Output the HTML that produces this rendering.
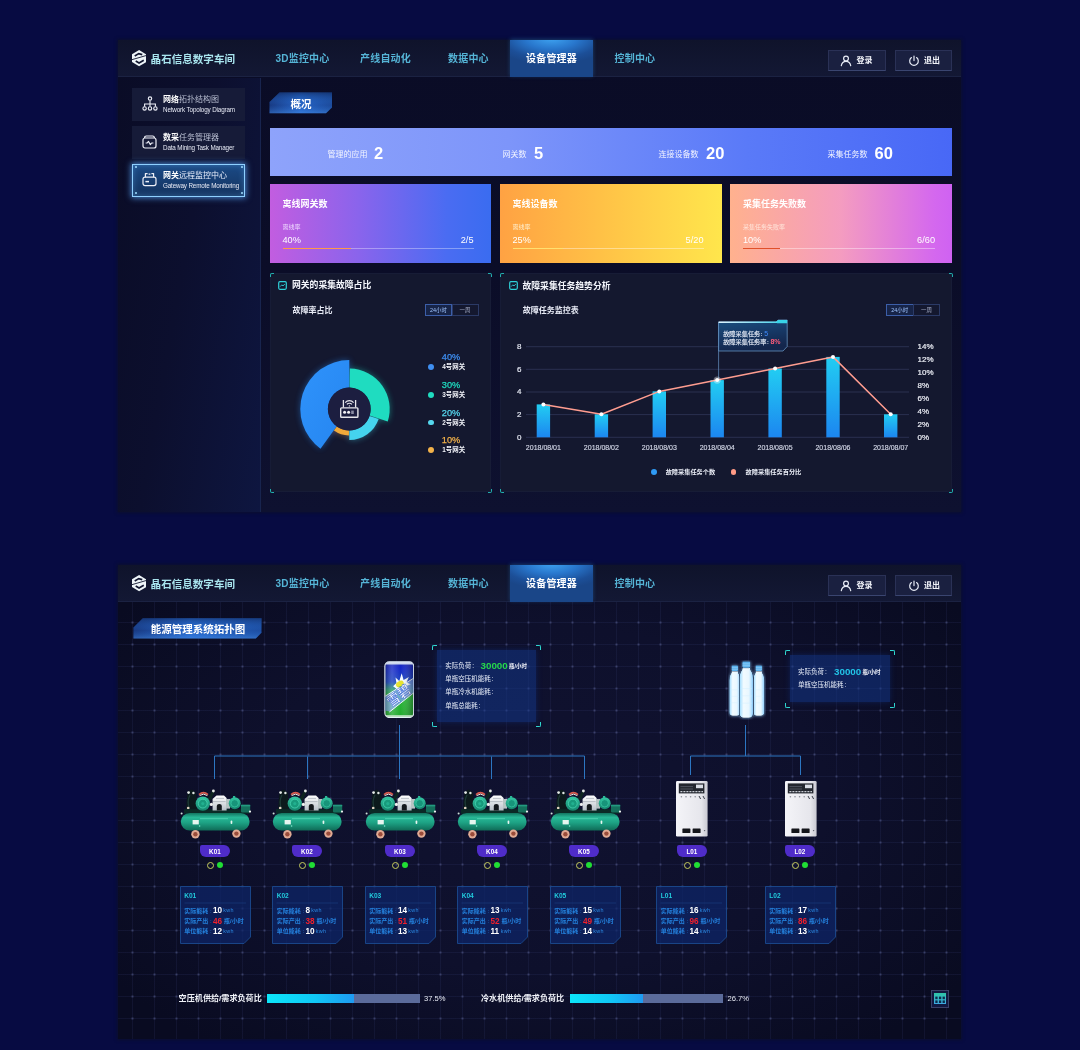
<!DOCTYPE html>
<html lang="zh-CN">
<head>
<meta charset="utf-8">
<title>晶石信息数字车间</title>
<style>
*{box-sizing:border-box;margin:0;padding:0}
html,body{width:1080px;height:1050px;overflow:hidden}
body{position:relative;background:#070b42;font-family:"Liberation Sans","Noto Sans CJK SC",sans-serif;color:#fff;-webkit-font-smoothing:antialiased}
.abs{position:absolute}
.t{position:absolute;white-space:nowrap;line-height:1;transform:translateY(-50%)}
.b{font-weight:bold}
.panel{position:absolute;left:118px;width:843px;background:linear-gradient(180deg,#0a0c26 0%,#0b0d28 50%,#0e1130 100%);box-shadow:0 0 3px 1px rgba(12,15,42,.85)}
.hdr{position:absolute;left:118px;width:843px;height:37px;background:linear-gradient(180deg,#0f132b 0%,#131834 100%);border-bottom:1px solid #1b2242}
.nav{color:#55b4d6;font-size:10px;font-weight:bold;letter-spacing:.2px}
.navact{position:absolute;left:509.5px;width:83.5px;height:37px;background:radial-gradient(ellipse 75% 70% at 50% -5%,#3ea4f2 0%,#2876cc 42%,#1c4f98 78%,#1a4688 100%);box-shadow:0 -1px 4px rgba(50,140,230,.35)}
.hbtn{position:absolute;height:21px;width:57px;background:#1a2040;border:1px solid #2a3156;border-bottom-color:#3a4570}
.side{position:absolute;left:132px;width:113px;height:33px;background:#161b38}
.side.act{background:linear-gradient(180deg,#1b4a86 0%,#14335f 100%);border:1px solid #8fd0ff;box-shadow:0 0 6px 1px rgba(90,170,255,.75), inset 0 0 6px rgba(110,190,255,.35)}
.s1{font-size:8px;color:#b9bfd2}
.s1 b{color:#fff}
.s2{font-size:6.3px;color:#e6e9f4;letter-spacing:-.15px}
.card{position:absolute;top:184px;height:79px}
.cp{position:absolute;background:#14182f;box-shadow:inset 0 0 0 1px rgba(40,50,90,.18)}
.br{position:absolute;width:4px;height:4px;border-color:rgba(37,201,195,.85);border-style:solid;border-width:0}
.br.tl{border-left-width:1.2px;border-top-width:1.2px;border-top-left-radius:2px}
.br.tr{border-right-width:1.2px;border-top-width:1.2px;border-top-right-radius:2px}
.br.bl{border-left-width:1.2px;border-bottom-width:1.2px;border-bottom-left-radius:2px}
.br.brr{border-right-width:1.2px;border-bottom-width:1.2px;border-bottom-right-radius:2px}
.br.b2{width:5px;height:5px;border-color:#2fd6cf}
.br.b2.tl{border-left-width:1.6px;border-top-width:1.6px}.br.b2.tr{border-right-width:1.6px;border-top-width:1.6px}.br.b2.bl{border-left-width:1.6px;border-bottom-width:1.6px}.br.b2.brr{border-right-width:1.6px;border-bottom-width:1.6px}
.tg{position:absolute;height:12px;border:1px solid #2b3a66;font-size:5.4px;color:#aab2cc;text-align:center;line-height:10px}
.tg.on{border-color:#3c5ea8;background:#172448;color:#9fc4ff}
.grid{position:absolute;left:118px;top:602px;width:843px;height:437px;background-color:#0c0e2a;background-image:radial-gradient(circle at 50% 50%,rgba(110,120,170,.55) 0,rgba(110,120,170,.35) .8px,transparent 1.6px),linear-gradient(90deg,rgba(64,74,136,.15) 1px,transparent 1px),linear-gradient(180deg,rgba(64,74,136,.15) 1px,transparent 1px),radial-gradient(ellipse 62% 72% at 50% 45%,#101230 0%,#0e102c 55%,#090b21 100%);background-size:22px 22px,22px 22px,22px 22px,100% 100%;background-position:3.5px 9.5px,14px 20px,14px 20px,0 0}
.il{font-size:6.5px;color:#e6ecf8}
.cl{font-size:6px;color:#2480dc;font-weight:bold}
.pill{position:absolute;top:845.1px;width:30.8px;height:12.3px;padding-top:.9px;background:#4f2cc9;border-radius:2px 6.2px 6.2px 6.2px;font-size:6.3px;font-weight:bold;text-align:center;line-height:12.2px;color:#fff}
.ring{position:absolute;top:861.9px;width:6.9px;height:6.9px;border-radius:4px;border:1.5px solid #c6cc5e}
.dot{position:absolute;top:862.1px;width:6.4px;height:6.4px;border-radius:4px;background:#20de34}
</style>
</head>
<body>
<div id="root" style="position:absolute;left:0;top:0;width:1080px;height:1050px;will-change:transform">
<!-- PANEL 1 -->
<div class="panel" style="top:40px;height:472px"></div>
<div class="hdr" style="top:40px"></div><div class="navact" style="top:40px"></div><svg class="abs" style="left:132px;top:50.3px" width="14.2" height="16.4" viewBox="0 0 14.1 16.2"><polygon points="7.05,0 14.1,4.2 14.1,12 7.05,16.2 0,12 0,4.2" fill="#eef5f9"/><g fill="none" stroke="#10152f" stroke-linejoin="miter"><path d="M-.5 9.7 L14.6 5.3" stroke-width=".9"/><path d="M2.7 5.9 L6.7 3.5 L10.2 4.5" stroke-width="1.7"/><path d="M3.7 10.9 L7 12.9 L11.7 10.1" stroke-width="1.7"/></g></svg><div class="t b" style="left:150.6px;top:58.5px;font-size:10.55px;color:#a8e4ee">晶石信息数字车间</div><div class="t nav" style="left:275.5px;top:59.0px">3D监控中心</div><div class="t nav" style="left:360.0px;top:59.0px">产线自动化</div><div class="t nav" style="left:448.0px;top:59.0px">数据中心</div><div class="t nav" style="left:526.0px;top:59.0px;color:#fff">设备管理器</div><div class="t nav" style="left:614.5px;top:59.0px">控制中心</div><div class="hbtn" style="left:828px;top:50px;width:58px"></div><div class="hbtn" style="left:895px;top:50px"></div><svg class="abs" style="left:840px;top:55px" width="12" height="12" viewBox="0 0 12 12"><g fill="none" stroke="#e8ecf6" stroke-width="1.2" stroke-linecap="round"><circle cx="6" cy="3.6" r="2.4"/><path d="M1.3 10.6 C1.8 7.6 3.8 6.3 6 6.3 C8.2 6.3 10.2 7.6 10.7 10.6"/></g></svg><div class="t b" style="left:856.5px;top:60.5px;font-size:8px;color:#f0f2f8">登录</div><svg class="abs" style="left:908px;top:55px" width="12" height="12" viewBox="0 0 12 12"><g fill="none" stroke="#e8ecf6" stroke-width="1.2" stroke-linecap="round"><path d="M3.4 2.6 A4.3 4.3 0 1 0 8.6 2.6"/><path d="M6 1 V5.6"/></g></svg><div class="t b" style="left:924px;top:60.5px;font-size:8px;color:#f0f2f8">退出</div>

<div class="abs" style="left:118px;top:78px;width:143px;height:434px;background:linear-gradient(100deg,#0a0c26 0%,#0c0f2e 45%,#0e1640 100%);border-right:1px solid #18244e"></div>
<div class="side" style="top:88px"></div>
<div class="side" style="top:126px"></div>
<div class="side act" style="top:163.5px"></div>
<svg class="abs" style="left:142px;top:96px" width="16" height="16" viewBox="0 0 16 16"><g fill="none" stroke="#eef0f8" stroke-width="1.1"><circle cx="8" cy="2.6" r="1.7"/><path d="M8 4.4 V8 M2.6 10.6 V8 H13.4 V10.6 M8 8 V10.6"/><circle cx="2.6" cy="12.4" r="1.7"/><circle cx="8" cy="12.4" r="1.7"/><circle cx="13.4" cy="12.4" r="1.7"/></g></svg>
<div class="t s1" style="left:163px;top:100.3px"><b>网络</b>拓扑结构图</div>
<div class="t s2" style="left:163px;top:109.8px">Network Topology Diagram</div>
<svg class="abs" style="left:142px;top:134.5px" width="15" height="14" viewBox="0 0 15 14"><g fill="none" stroke="#eef0f8" stroke-width="1.2" stroke-linejoin="round"><path d="M2.6 3 Q2.6 1 4.4 1 H10.6 Q12.4 1 12.4 3"/><rect x="1" y="3" width="13" height="10" rx="2"/><path d="M3.6 8 H5.2 L6.4 6.4 L8.4 9.6 L9.6 8 H11.4" stroke-width="1.1"/></g></svg>
<div class="t s1" style="left:163px;top:138.1px"><b>数采</b>任务管理器</div>
<div class="t s2" style="left:163px;top:147.8px">Data Mining Task Manager</div>
<svg class="abs" style="left:142px;top:172px" width="15" height="15" viewBox="0 0 15 15"><g fill="none" stroke="#eef0f8" stroke-width="1.2" stroke-linejoin="round"><path d="M3.4 5.2 V1.6 H5.6 M11.6 5.2 V1.6 H9.4 M6.6 2.2 H8.4"/><rect x="1" y="5.2" width="13" height="8.4" rx="2"/><path d="M3.4 9.6 H7" stroke-width="1.5"/></g></svg>
<div class="t s1" style="left:163px;top:176px;color:#e8eefc"><b>网关</b>远程监控中心</div>
<div class="t s2" style="left:163px;top:185.5px">Gateway Remote Monitoring</div>
<div class="abs" style="left:134.5px;top:166px;width:2px;height:2px;background:#9fdcff;border-radius:1px"></div>
<div class="abs" style="left:240.5px;top:166px;width:2px;height:2px;background:#9fdcff;border-radius:1px"></div>
<div class="abs" style="left:134.5px;top:192px;width:2px;height:2px;background:#9fdcff;border-radius:1px"></div>
<div class="abs" style="left:240.5px;top:192px;width:2px;height:2px;background:#9fdcff;border-radius:1px"></div>

<svg class="abs" style="left:269px;top:92px" width="64" height="22" viewBox="0 0 64 22"><defs><linearGradient id="tabg" x1="0" y1="0" x2="1" y2="0"><stop offset="0" stop-color="#183a82"/><stop offset=".5" stop-color="#2664c6"/><stop offset="1" stop-color="#1c4a9a"/></linearGradient><linearGradient id="tabgb" x1="0" y1="0" x2="0" y2="1"><stop offset="0" stop-color="#0e2658" stop-opacity=".6"/><stop offset=".6" stop-color="#2a78e0" stop-opacity="0"/><stop offset="1" stop-color="#58a8ff" stop-opacity=".35"/></linearGradient></defs><path d="M10.5 .5 H63 V15.5 L57 21.3 H.5 V10 Z" fill="url(#tabg)"/><path d="M10.5 .5 H63 V15.5 L57 21.3 H.5 V10 Z" fill="url(#tabgb)"/></svg>
<div class="t b" style="left:290.5px;top:103.5px;font-size:10.5px;color:#fff">概况</div>

<div class="abs" style="left:270px;top:128px;width:682px;height:48px;background:linear-gradient(90deg,#8ea3fb 0%,#7d95fa 35%,#5a7af8 70%,#4868f6 100%)"></div>
<div class="t" style="left:327.5px;top:154.5px;font-size:8px;color:#f2f4ff">管理的应用</div>
<div class="t b" style="left:374px;top:152.5px;font-size:16.5px">2</div>
<div class="t" style="left:502.5px;top:154.5px;font-size:8px;color:#f2f4ff">网关数</div>
<div class="t b" style="left:534px;top:152.5px;font-size:16.5px">5</div>
<div class="t" style="left:658.5px;top:154.5px;font-size:8px;color:#f2f4ff">连接设备数</div>
<div class="t b" style="left:706px;top:152.5px;font-size:16.5px">20</div>
<div class="t" style="left:827.5px;top:154.5px;font-size:8px;color:#f2f4ff">采集任务数</div>
<div class="t b" style="left:874.5px;top:152.5px;font-size:16.5px">60</div>

<div class="card" style="left:270px;width:221px;background:linear-gradient(90deg,#c25de0 0%,#8a64ec 40%,#4a6cf2 80%,#3a6cf0 100%)"></div>
<div class="t b" style="left:282.5px;top:203.5px;font-size:9px">离线网关数</div>
<div class="t" style="left:282.5px;top:226.5px;font-size:6px;color:#f0dcff">离线率</div>
<div class="t" style="left:282.5px;top:241px;font-size:9.2px">40%</div>
<div class="t" style="left:473.5px;top:241px;font-size:9.2px;transform:translate(-100%,-50%)">2/5</div>
<div class="abs" style="left:282.5px;top:247.8px;width:191px;height:1px;background:rgba(255,255,255,.35)"></div>
<div class="abs" style="left:282.5px;top:247.5px;width:68px;height:1.5px;background:#ff9a4a"></div>

<div class="card" style="left:500px;width:222px;background:linear-gradient(90deg,#ffa243 0%,#ffc146 45%,#ffe64c 100%)"></div>
<div class="t b" style="left:512.5px;top:203.5px;font-size:9px">离线设备数</div>
<div class="t" style="left:512.5px;top:226.5px;font-size:6px;color:#fff0d0">离线率</div>
<div class="t" style="left:512.5px;top:241px;font-size:9.2px">25%</div>
<div class="t" style="left:703.5px;top:241px;font-size:9.2px;transform:translate(-100%,-50%)">5/20</div>
<div class="abs" style="left:512.5px;top:247.8px;width:191px;height:1px;background:rgba(255,255,255,.4)"></div>
<div class="abs" style="left:512.5px;top:247.5px;width:50px;height:1.5px;background:#ffe070"></div>

<div class="card" style="left:730px;width:222px;background:linear-gradient(90deg,#ffb18e 0%,#f49cc0 50%,#d468ee 92%,#cf62f2 100%)"></div>
<div class="t b" style="left:743px;top:203.5px;font-size:9px">采集任务失败数</div>
<div class="t" style="left:743px;top:226.5px;font-size:6px;color:#ffe6dc">采集任务失败率</div>
<div class="t" style="left:743px;top:241px;font-size:9.2px">10%</div>
<div class="t" style="left:935px;top:241px;font-size:9.2px;transform:translate(-100%,-50%)">6/60</div>
<div class="abs" style="left:743px;top:247.8px;width:192px;height:1px;background:rgba(255,255,255,.4)"></div>
<div class="abs" style="left:743px;top:247.5px;width:37px;height:1.5px;background:#e0502a"></div>

<div class="cp" style="left:270px;top:273px;width:221px;height:219px"></div>
<div class="cp" style="left:500px;top:273px;width:452px;height:219px"></div>
<div class="br tl" style="left:269.5px;top:272.5px"></div><div class="br tr" style="left:487.5px;top:272.5px"></div>
<div class="br bl" style="left:269.5px;top:488.5px"></div><div class="br brr" style="left:487.5px;top:488.5px"></div>
<div class="br tl" style="left:499.5px;top:272.5px"></div><div class="br tr" style="left:948.5px;top:272.5px"></div>
<div class="br bl" style="left:499.5px;top:488.5px"></div><div class="br brr" style="left:948.5px;top:488.5px"></div>
<svg class="abs" style="left:278px;top:280.5px" width="9" height="9" viewBox="0 0 9 9"><rect x=".7" y=".7" width="7.6" height="7.6" rx="1.2" fill="none" stroke="#2fd0d8" stroke-width="1.2"/><path d="M2.2 5.6 L3.8 3.8 L5 5 L6.8 3" fill="none" stroke="#2fd0d8" stroke-width=".9"/></svg>
<div class="t b" style="left:292px;top:285.2px;font-size:8.8px;color:#f4f6fc">网关的采集故障占比</div>
<div class="t b" style="left:292.5px;top:310.5px;font-size:8px;color:#e6e9f4">故障率占比</div>
<div class="tg on" style="left:425px;top:303.5px;width:27px">24小时</div><div class="tg" style="left:451.5px;top:303.5px;width:27px">一周</div>
<svg class="abs" style="left:270px;top:330px" width="221" height="150" viewBox="270 330 221 150">
<defs><linearGradient id="dblue" x1="0" y1="0" x2="1" y2="1"><stop offset="0" stop-color="#2f93fb"/><stop offset="1" stop-color="#2585f0"/></linearGradient>
<filter id="dglow" x="-30%" y="-30%" width="160%" height="160%"><feGaussianBlur stdDeviation="3"/></filter></defs>
<g filter="url(#dglow)" opacity=".45"><path d="M320.50 448.64 A49 49 0 0 1 349.30 360.00 L349.30 387.60 A21.4 21.4 0 0 0 336.72 426.31 Z" fill="url(#dblue)"/><path d="M349.86 368.60 A40.4 40.4 0 0 1 387.72 421.48 L369.65 415.61 A21.4 21.4 0 0 0 349.60 387.60 Z" fill="#1fdcc0"/><path d="M378.65 418.99 A31 31 0 0 1 349.30 440.00 L349.30 430.40 A21.4 21.4 0 0 0 369.56 415.90 Z" fill="#45d4ee"/><path d="M348.93 435.50 A26.5 26.5 0 0 1 333.91 430.57 L336.87 426.42 A21.4 21.4 0 0 0 349.00 430.40 Z" fill="#f0a93a"/></g>
<path d="M320.50 448.64 A49 49 0 0 1 349.30 360.00 L349.30 387.60 A21.4 21.4 0 0 0 336.72 426.31 Z" fill="url(#dblue)"/><path d="M349.86 368.60 A40.4 40.4 0 0 1 387.72 421.48 L369.65 415.61 A21.4 21.4 0 0 0 349.60 387.60 Z" fill="#1fdcc0"/><path d="M378.65 418.99 A31 31 0 0 1 349.30 440.00 L349.30 430.40 A21.4 21.4 0 0 0 369.56 415.90 Z" fill="#45d4ee"/><path d="M348.93 435.50 A26.5 26.5 0 0 1 333.91 430.57 L336.87 426.42 A21.4 21.4 0 0 0 349.00 430.40 Z" fill="#f0a93a"/>
<circle cx="349.3" cy="409.0" r="21.4" fill="#1c1e40"/>
<g fill="none" stroke="#e6e6ec" stroke-width="1.4" stroke-linejoin="round"><rect x="340.7" y="407.9" width="17.2" height="9.4" rx=".8"/><path d="M343.4 407.6 V400 M355.6 407.6 V400" stroke-width="1.3"/><path d="M346.9 404.4 A3.2 3.2 0 0 1 351.9 404.4 M345.2 402.6 A5.4 5.4 0 0 1 353.6 402.6" stroke-width="1.1"/><circle cx="349.4" cy="405.9" r=".7" fill="#e6e6ec" stroke="none"/><circle cx="344.6" cy="412.2" r="1.5" fill="#f2f2f6" stroke="none"/><circle cx="348.6" cy="412.2" r="1.5" fill="#f2f2f6" stroke="none"/><rect x="351.2" y="410.6" width="2.6" height="3.4" fill="#8a8ca4" stroke="none"/></g>
</svg>
<div class="abs" style="left:428px;top:364.1px;width:5.6px;height:5.6px;border-radius:3px;background:#3f8ff2"></div><div class="t" style="left:441.8px;top:358.3px;font-size:9.2px;color:#3f8ff2;-webkit-text-stroke:.25px #3f8ff2">40%</div><div class="t b" style="left:442.3px;top:367.1px;font-size:6.4px;color:#f0f2f8">4号网关</div>
<div class="abs" style="left:428px;top:392.2px;width:5.6px;height:5.6px;border-radius:3px;background:#1fdcc0"></div><div class="t" style="left:441.8px;top:386.4px;font-size:9.2px;color:#1fdcc0;-webkit-text-stroke:.25px #1fdcc0">30%</div><div class="t b" style="left:442.3px;top:395.2px;font-size:6.4px;color:#f0f2f8">3号网关</div>
<div class="abs" style="left:428px;top:419.7px;width:5.6px;height:5.6px;border-radius:3px;background:#56d8ee"></div><div class="t" style="left:441.8px;top:413.9px;font-size:9.2px;color:#56d8ee;-webkit-text-stroke:.25px #56d8ee">20%</div><div class="t b" style="left:442.3px;top:422.7px;font-size:6.4px;color:#f0f2f8">2号网关</div>
<div class="abs" style="left:428px;top:447.2px;width:5.6px;height:5.6px;border-radius:3px;background:#f3b24a"></div><div class="t" style="left:441.8px;top:441.4px;font-size:9.2px;color:#f3b24a;-webkit-text-stroke:.25px #f3b24a">10%</div><div class="t b" style="left:442.3px;top:450.2px;font-size:6.4px;color:#f0f2f8">1号网关</div>

<svg class="abs" style="left:508.5px;top:281px" width="9" height="9" viewBox="0 0 9 9"><rect x=".7" y=".7" width="7.6" height="7.6" rx="1.2" fill="none" stroke="#2fd0d8" stroke-width="1.2"/><path d="M2.2 5.6 L3.8 3.8 L5 5 L6.8 3" fill="none" stroke="#2fd0d8" stroke-width=".9"/></svg>
<div class="t b" style="left:522.5px;top:285.5px;font-size:8.8px;color:#f4f6fc">故障采集任务趋势分析</div>
<div class="t b" style="left:522.8px;top:310.5px;font-size:8px;color:#e6e9f4">故障任务监控表</div>
<div class="tg on" style="left:886px;top:303.5px;width:27.5px">24小时</div><div class="tg" style="left:913px;top:303.5px;width:27px">一周</div>
<svg class="abs" style="left:500px;top:315px" width="452" height="130" viewBox="500 315 452 130">
<defs><linearGradient id="barg" x1="0" y1="0" x2="0" y2="1"><stop offset="0" stop-color="#22cdf2"/><stop offset="1" stop-color="#1c86f0"/></linearGradient>
<linearGradient id="ttg" x1="0" y1="0" x2=".3" y2="1"><stop offset="0" stop-color="#1b5080"/><stop offset=".5" stop-color="#173a68"/><stop offset="1" stop-color="#14264c"/></linearGradient><linearGradient id="ttop" gradientUnits="userSpaceOnUse" x1="718" y1="0" x2="787" y2="0"><stop offset="0" stop-color="#dff4ff"/><stop offset=".5" stop-color="#8fe0f4"/><stop offset="1" stop-color="#38d4e8"/></linearGradient></defs>
<line x1="526" y1="437.3" x2="909" y2="437.3" stroke="#2a3050" stroke-width="1"/><line x1="526" y1="414.6" x2="909" y2="414.6" stroke="#2a3050" stroke-width="1"/><line x1="526" y1="392.0" x2="909" y2="392.0" stroke="#2a3050" stroke-width="1"/><line x1="526" y1="369.3" x2="909" y2="369.3" stroke="#2a3050" stroke-width="1"/><line x1="526" y1="346.7" x2="909" y2="346.7" stroke="#2a3050" stroke-width="1"/>
<rect x="536.7" y="404.4" width="13.4" height="32.9" fill="url(#barg)"/><rect x="594.7" y="414.3" width="13.4" height="23.0" fill="url(#barg)"/><rect x="652.6" y="391.4" width="13.4" height="45.9" fill="url(#barg)"/><rect x="710.5" y="380.1" width="13.4" height="57.2" fill="url(#barg)"/><rect x="768.4" y="368.5" width="13.4" height="68.8" fill="url(#barg)"/><rect x="826.3" y="356.9" width="13.4" height="80.4" fill="url(#barg)"/><rect x="884.0" y="414.3" width="13.4" height="23.0" fill="url(#barg)"/>
<line x1="718.6" y1="322" x2="718.6" y2="380" stroke="#5f86b4" stroke-width=".8"/>
<polyline points="543.4,404.4 601.4,414.3 659.3,391.4 717.2,380.1 775.1,368.5 833.0,356.9 890.7,414.3" fill="none" stroke="#ff9d90" stroke-width="1.5" stroke-linejoin="round"/>
<circle cx="717.2" cy="380.1" r="3.6" fill="rgba(255,255,255,.35)"/>
<circle cx="543.4" cy="404.4" r="2" fill="#fff"/><circle cx="601.4" cy="414.3" r="2" fill="#fff"/><circle cx="659.3" cy="391.4" r="2" fill="#fff"/><circle cx="717.2" cy="380.1" r="2" fill="#fff"/><circle cx="775.1" cy="368.5" r="2" fill="#fff"/><circle cx="833.0" cy="356.9" r="2" fill="#fff"/><circle cx="890.7" cy="414.3" r="2" fill="#fff"/>
<path d="M718.6 322 H776 L778 320 H787.2 V346.5 L783 351 H718.6 Z" fill="url(#ttg)" stroke="#6fa0d0" stroke-width=".7"/>
<path d="M776 322 L778 320 H787.2 V323.2 H777 Z" fill="#38d4e8"/>
<path d="M718.6 322.3 H777" stroke="url(#ttop)" stroke-width="1.6"/>
</svg>
<div class="t" style="left:723.2px;top:333.5px;font-size:6.2px;color:#e6ebf6;-webkit-text-stroke:.15px #e6ebf6">故障采集任务<span style="margin-left:.5px">:</span> <span style="color:#3f8cff;font-size:7px;-webkit-text-stroke:0">5</span></div>
<div class="t" style="left:723.2px;top:342px;font-size:6.2px;color:#e6ebf6;-webkit-text-stroke:.15px #e6ebf6">故障采集任务率<span style="margin-left:.5px">:</span> <b style="color:#ff5a78;font-size:7px;-webkit-text-stroke:0">8%</b></div>
<div class="t" style="left:521.5px;top:437.6px;font-size:8px;color:#e2e5f0;-webkit-text-stroke:.2px #e2e5f0;transform:translate(-100%,-50%)">0</div><div class="t" style="left:521.5px;top:414.9px;font-size:8px;color:#e2e5f0;-webkit-text-stroke:.2px #e2e5f0;transform:translate(-100%,-50%)">2</div><div class="t" style="left:521.5px;top:392.3px;font-size:8px;color:#e2e5f0;-webkit-text-stroke:.2px #e2e5f0;transform:translate(-100%,-50%)">4</div><div class="t" style="left:521.5px;top:369.6px;font-size:8px;color:#e2e5f0;-webkit-text-stroke:.2px #e2e5f0;transform:translate(-100%,-50%)">6</div><div class="t" style="left:521.5px;top:347.0px;font-size:8px;color:#e2e5f0;-webkit-text-stroke:.2px #e2e5f0;transform:translate(-100%,-50%)">8</div><div class="t" style="left:917.5px;top:437.6px;font-size:8px;color:#eceef6;-webkit-text-stroke:.2px #eceef6">0%</div><div class="t" style="left:917.5px;top:424.7px;font-size:8px;color:#eceef6;-webkit-text-stroke:.2px #eceef6">2%</div><div class="t" style="left:917.5px;top:411.7px;font-size:8px;color:#eceef6;-webkit-text-stroke:.2px #eceef6">4%</div><div class="t" style="left:917.5px;top:398.8px;font-size:8px;color:#eceef6;-webkit-text-stroke:.2px #eceef6">6%</div><div class="t" style="left:917.5px;top:385.8px;font-size:8px;color:#eceef6;-webkit-text-stroke:.2px #eceef6">8%</div><div class="t" style="left:917.5px;top:372.9px;font-size:8px;color:#eceef6;-webkit-text-stroke:.2px #eceef6">10%</div><div class="t" style="left:917.5px;top:360.0px;font-size:8px;color:#eceef6;-webkit-text-stroke:.2px #eceef6">12%</div><div class="t" style="left:917.5px;top:347.0px;font-size:8px;color:#eceef6;-webkit-text-stroke:.2px #eceef6">14%</div>
<div class="t" style="left:543.4px;top:447.3px;font-size:7px;color:#d2d6e6;-webkit-text-stroke:.15px #d2d6e6;transform:translate(-50%,-50%)">2018/08/01</div><div class="t" style="left:601.4px;top:447.3px;font-size:7px;color:#d2d6e6;-webkit-text-stroke:.15px #d2d6e6;transform:translate(-50%,-50%)">2018/08/02</div><div class="t" style="left:659.3px;top:447.3px;font-size:7px;color:#d2d6e6;-webkit-text-stroke:.15px #d2d6e6;transform:translate(-50%,-50%)">2018/08/03</div><div class="t" style="left:717.2px;top:447.3px;font-size:7px;color:#d2d6e6;-webkit-text-stroke:.15px #d2d6e6;transform:translate(-50%,-50%)">2018/08/04</div><div class="t" style="left:775.1px;top:447.3px;font-size:7px;color:#d2d6e6;-webkit-text-stroke:.15px #d2d6e6;transform:translate(-50%,-50%)">2018/08/05</div><div class="t" style="left:833.0px;top:447.3px;font-size:7px;color:#d2d6e6;-webkit-text-stroke:.15px #d2d6e6;transform:translate(-50%,-50%)">2018/08/06</div><div class="t" style="left:890.7px;top:447.3px;font-size:7px;color:#d2d6e6;-webkit-text-stroke:.15px #d2d6e6;transform:translate(-50%,-50%)">2018/08/07</div>
<div class="abs" style="left:651.2px;top:469.4px;width:5.4px;height:5.4px;border-radius:3px;background:#2f9af5"></div>
<div class="t b" style="left:665.7px;top:472.2px;font-size:6.2px;color:#eceff8">故障采集任务个数</div>
<div class="abs" style="left:730.8px;top:469.4px;width:5.4px;height:5.4px;border-radius:3px;background:#ff9a86"></div>
<div class="t b" style="left:745.6px;top:472.2px;font-size:6.2px;color:#eceff8">故障采集任务百分比</div>

<!-- PANEL 2 -->
<div class="panel" style="top:565px;height:474px;background:#0b0e27"></div>
<div class="grid"></div>
<div class="hdr" style="top:565px"></div><div class="navact" style="top:565px"></div><svg class="abs" style="left:132px;top:575.3px" width="14.2" height="16.4" viewBox="0 0 14.1 16.2"><polygon points="7.05,0 14.1,4.2 14.1,12 7.05,16.2 0,12 0,4.2" fill="#eef5f9"/><g fill="none" stroke="#10152f" stroke-linejoin="miter"><path d="M-.5 9.7 L14.6 5.3" stroke-width=".9"/><path d="M2.7 5.9 L6.7 3.5 L10.2 4.5" stroke-width="1.7"/><path d="M3.7 10.9 L7 12.9 L11.7 10.1" stroke-width="1.7"/></g></svg><div class="t b" style="left:150.6px;top:583.5px;font-size:10.55px;color:#a8e4ee">晶石信息数字车间</div><div class="t nav" style="left:275.5px;top:584.0px">3D监控中心</div><div class="t nav" style="left:360.0px;top:584.0px">产线自动化</div><div class="t nav" style="left:448.0px;top:584.0px">数据中心</div><div class="t nav" style="left:526.0px;top:584.0px;color:#fff">设备管理器</div><div class="t nav" style="left:614.5px;top:584.0px">控制中心</div><div class="hbtn" style="left:828px;top:575px;width:58px"></div><div class="hbtn" style="left:895px;top:575px"></div><svg class="abs" style="left:840px;top:580px" width="12" height="12" viewBox="0 0 12 12"><g fill="none" stroke="#e8ecf6" stroke-width="1.2" stroke-linecap="round"><circle cx="6" cy="3.6" r="2.4"/><path d="M1.3 10.6 C1.8 7.6 3.8 6.3 6 6.3 C8.2 6.3 10.2 7.6 10.7 10.6"/></g></svg><div class="t b" style="left:856.5px;top:585.5px;font-size:8px;color:#f0f2f8">登录</div><svg class="abs" style="left:908px;top:580px" width="12" height="12" viewBox="0 0 12 12"><g fill="none" stroke="#e8ecf6" stroke-width="1.2" stroke-linecap="round"><path d="M3.4 2.6 A4.3 4.3 0 1 0 8.6 2.6"/><path d="M6 1 V5.6"/></g></svg><div class="t b" style="left:924px;top:585.5px;font-size:8px;color:#f0f2f8">退出</div>

<svg class="abs" style="left:133px;top:617.5px" width="129" height="21" viewBox="0 0 129 21"><defs><linearGradient id="tab2" x1="0" y1="0" x2="1" y2="0"><stop offset="0" stop-color="#193a82"/><stop offset=".45" stop-color="#2768cc"/><stop offset="1" stop-color="#1d4ea2"/></linearGradient><linearGradient id="tab2b" x1="0" y1="0" x2="0" y2="1"><stop offset="0" stop-color="#102a60" stop-opacity=".55"/><stop offset=".6" stop-color="#2a78e0" stop-opacity="0"/><stop offset="1" stop-color="#58a8ff" stop-opacity=".35"/></linearGradient></defs><path d="M9.8 .3 H128.5 V14.8 L122.8 20.6 H.4 V9.4 Z" fill="url(#tab2)"/><path d="M9.8 .3 H128.5 V14.8 L122.8 20.6 H.4 V9.4 Z" fill="url(#tab2b)"/></svg>
<div class="t b" style="left:150.7px;top:628.5px;font-size:10.5px;color:#fff">能源管理系统拓扑图</div>
<svg class="abs" style="left:118px;top:602px" width="843" height="437" viewBox="118 602 843 437">
<g fill="none" stroke="#2c76c2" stroke-width="1">
<path d="M399.5 725 V756 M214.5 779 V756 H584.5 V779 M307.5 756.5 V779 M399.5 756 V779 M491.5 756.5 V779"/>
<path d="M745.5 725 V756 M690.5 775 V756 H800.5 V775"/>
</g>
</svg>
<svg width="0" height="0" style="position:absolute">
<defs>
<linearGradient id="tank" x1="0" y1="0" x2="0" y2="1"><stop offset="0" stop-color="#127460"/><stop offset=".25" stop-color="#28b896"/><stop offset=".55" stop-color="#1da284"/><stop offset="1" stop-color="#0f6a56"/></linearGradient>
<linearGradient id="gcyl" x1="0" y1="0" x2="0" y2="1"><stop offset="0" stop-color="#35c8a4"/><stop offset="1" stop-color="#14846c"/></linearGradient>
<linearGradient id="wmot" x1="0" y1="0" x2="0" y2="1"><stop offset="0" stop-color="#ffffff"/><stop offset="1" stop-color="#b8c0c8"/></linearGradient>
<linearGradient id="cool" x1="0" y1="0" x2="1" y2="0"><stop offset="0" stop-color="#f4f4f8"/><stop offset=".8" stop-color="#e6e6ec"/><stop offset="1" stop-color="#c9c9d2"/></linearGradient>
<linearGradient id="bot" x1="0" y1="0" x2="1" y2="0"><stop offset="0" stop-color="#9fdcff"/><stop offset=".3" stop-color="#f2fbff"/><stop offset=".7" stop-color="#e8f7ff"/><stop offset="1" stop-color="#8fd0ff"/></linearGradient>
<linearGradient id="canb" x1="0" y1="0" x2="1" y2="0"><stop offset="0" stop-color="#0a3aa0"/><stop offset=".35" stop-color="#2f6fe8"/><stop offset=".7" stop-color="#1848c0"/><stop offset="1" stop-color="#082a80"/></linearGradient>
<linearGradient id="cang" x1="0" y1="0" x2="1" y2="0"><stop offset="0" stop-color="#1c8a28"/><stop offset=".4" stop-color="#5fd84a"/><stop offset=".75" stop-color="#2fae34"/><stop offset="1" stop-color="#146a20"/></linearGradient>
<clipPath id="canclip"><path d="M3 4 Q3 1.5 6 1.2 H25 Q28 1.5 28 4 L30 9 V50 Q30 55 26 56.5 H5 Q1 55 1 50 V9 Z"/></clipPath>
<g id="comp">
  <path d="M6 25 L7 9 Q8 3 12 2.6 L16 6 L17 25 Z" fill="#0c1a1c"/>
  <path d="M9.5 22 Q6.5 14 10 8" fill="none" stroke="#1d3a36" stroke-width="1.2"/>
  <circle cx="8.6" cy="5.6" r="1.4" fill="#e6ece8"/><circle cx="13.4" cy="6" r="1.2" fill="#dfe6e2"/><circle cx="8.2" cy="21" r="1.3" fill="#e2d2c0"/><circle cx="5.2" cy="24" r="1" fill="#d8e0dc"/><circle cx="1.6" cy="26.4" r="1" fill="#cfe0d8"/>
  <path d="M27.5 12 L32 3.4 L34.6 5 L31 13 Z" fill="#0e2420"/><circle cx="33.4" cy="4" r="1.4" fill="#e8ece8"/>
  <rect x="4" y="22.2" width="65" height="4.6" fill="#0b2a26"/>
  <path d="M19 7.6 Q23.5 3.6 28 7.6" stroke="#d85a4e" stroke-width="1.5" fill="none"/><path d="M19.6 8.6 Q23.5 5.6 27.4 8.6" stroke="#f0e6e2" stroke-width="1" fill="none"/>
  <circle cx="22.8" cy="16.6" r="7.2" fill="url(#gcyl)"/><circle cx="22.8" cy="16.6" r="4.4" fill="#189a7c" stroke="#4adcb8" stroke-width=".7"/><circle cx="22.8" cy="16.6" r="1.6" fill="#22b090"/>
  <path d="M32.6 12 L36.5 8.6 H44 L46.6 11 V23.6 H32.6 Z" fill="url(#wmot)"/><path d="M36.8 23.6 V19.6 A2.5 2.5 0 0 1 41.8 19.6 V23.6 Z" fill="#14181c"/>
  <path d="M33 14.6 H45.6 M36 11.4 H44" stroke="#98a2aa" stroke-width=".6"/><circle cx="31.4" cy="17.4" r="1.6" fill="#f0f0f0"/>
  <rect x="46" y="12" width="4" height="9.6" fill="#b8c4c4"/>
  <circle cx="54.7" cy="16.3" r="6" fill="url(#gcyl)"/><circle cx="54.7" cy="16.3" r="3.7" fill="#17947a" stroke="#3fd0ac" stroke-width=".6"/>
  <rect x="53" y="9" width="2.2" height="2" fill="#2ab898"/>
  <rect x="61" y="17.8" width="9.2" height="7.6" rx=".8" fill="#14705c"/><rect x="61" y="17.8" width="9.2" height="1.6" fill="#239a80"/>
  <circle cx="70" cy="24.6" r="1.1" fill="#eef2f0"/>
  <rect x="0.8" y="26" width="68.8" height="17.6" rx="8.8" fill="url(#tank)"/>
  <rect x="12.6" y="33" width="6.2" height="4.4" fill="#e6f6f0"/><rect x="50.6" y="33.6" width="1.7" height="3.4" rx=".8" fill="#e6f6f0"/><circle cx="19.6" cy="39" r=".8" fill="#7fe8cc"/>
  <rect x="20" y="31" width="28" height="1.2" fill="#6fe6c8" opacity=".45"/>
  <circle cx="15.4" cy="47.2" r="4.2" fill="#e0aa94"/><circle cx="15.4" cy="47.2" r="2.2" fill="#9a4c3a"/>
  <circle cx="56.4" cy="46.6" r="4.2" fill="#e0aa94"/><circle cx="56.4" cy="46.6" r="2.2" fill="#9a4c3a"/>
</g>
<g id="cooler">
  <rect x="0" y="0" width="31.6" height="55.4" rx="1.2" fill="url(#cool)"/>
  <rect x="2.8" y="2.4" width="25.6" height="10" fill="#23262e"/>
  <rect x="20" y="3.6" width="7" height="3.6" fill="#d8dce4"/>
  <path d="M4.4 5.6 H17 M4.4 8 H17" stroke="#5a606c" stroke-width=".8"/>
  <path d="M4.4 10.6 H27" stroke="#c8ccd4" stroke-width="1.2" stroke-dasharray="2 1"/>
  <g fill="#8a8e98"><circle cx="5.4" cy="15.8" r=".8"/><circle cx="10" cy="15.8" r=".8"/><circle cx="14.6" cy="15.8" r=".8"/><circle cx="19.2" cy="15.8" r=".8"/></g>
  <path d="M23 15 L24.6 18 M27 15 L28.6 18" stroke="#3a3e48" stroke-width="1"/>
  <rect x="6.4" y="47.4" width="8" height="4.6" rx=".6" fill="#14151a"/><rect x="16.6" y="47.4" width="8" height="4.6" rx=".6" fill="#14151a"/>
  <circle cx="28.6" cy="49.6" r=".7" fill="#5a5e68"/>
</g>
<g id="bottle">
  <path d="M3 5.5 H9.6 Q9.8 8 11.6 10.5 Q12.6 12.5 12.6 16 V50 Q12.6 54 8.6 54 H4 Q0 54 0 50 V16 Q0 12.5 1 10.5 Q2.8 8 3 5.5 Z" fill="url(#bot)" stroke="#0a1634" stroke-width="1.1" paint-order="stroke"/>
  <rect x="2.6" y="0" width="7.4" height="5.8" rx="1" fill="#5cb2ee" stroke="#0a1634" stroke-width=".8" paint-order="stroke"/>
  <path d="M2.8 2.2 H9.8 M2.8 4 H9.8" stroke="#9fd8fb" stroke-width=".6"/>
  <path d="M1 26 H11.6 M1 33 H11.6 M1 40 H11.6" stroke="#cfeeff" stroke-width=".6" opacity=".7"/>
</g>
</defs>
</svg>
<svg class="abs" style="left:383.6px;top:660.7px" width="30.6" height="57.4" viewBox="-1 -1 32 59" preserveAspectRatio="none">
<defs><linearGradient id="canv" x1="0" y1="0" x2="0" y2="1"><stop offset="0" stop-color="#1a2ab8"/><stop offset=".1" stop-color="#1526c8"/><stop offset=".36" stop-color="#1a44c0"/><stop offset=".5" stop-color="#2a9a70"/><stop offset=".62" stop-color="#2cb83a"/><stop offset="1" stop-color="#1fa82c"/></linearGradient>
<linearGradient id="canh" x1="0" y1="0" x2="1" y2="0"><stop offset="0" stop-color="#000" stop-opacity=".28"/><stop offset=".25" stop-color="#fff" stop-opacity=".18"/><stop offset=".55" stop-color="#fff" stop-opacity="0"/><stop offset="1" stop-color="#000" stop-opacity=".35"/></linearGradient>
<clipPath id="cc2"><rect x="0" y="0" width="30" height="57" rx="4.5"/></clipPath></defs>
<rect x="0" y="0" width="30" height="57" rx="4.5" fill="url(#canv)" stroke="#eaf6ff" stroke-width="1.3"/>
<g clip-path="url(#cc2)">
<path d="M-1 36 L31 16 L31 31 L6 51 L-1 50 Z" fill="#7fa6f2" opacity=".75"/>
<path d="M-1 36 L31 16 M4.5 51.5 L31 31" stroke="#f2f8ff" stroke-width="1"/>
<path d="M8.5 25 L12 21.5 L11 16 L15 19.5 L17.5 11.5 L19.5 18.5 L25 15.5 L22.5 21 L27 23 L20 25.5 L14 29 Z" fill="#f4faff"/>
<ellipse cx="15.6" cy="22.6" rx="4.3" ry="3" transform="rotate(-28 15.6 22.6)" fill="#e6e22a"/>
<path d="M13 25.6 Q17 26 20.4 22 Q19 27.5 13 25.6 Z" fill="#4cc43c"/>
<text x="15" y="39" font-size="13.5" font-weight="bold" fill="#ffffff" stroke="#3a66dc" stroke-width=".5" text-anchor="middle" transform="rotate(-36 15 35)" font-family="'Liberation Sans','Noto Sans CJK SC',sans-serif">雪碧</text>
<rect x="0" y="0" width="30" height="57" fill="url(#canh)"/>
<rect x="0" y="0" width="30" height="2.6" fill="#dfe8f4" opacity=".9"/>
<rect x="0" y="54.6" width="30" height="2.4" fill="#cfe8d4" opacity=".8"/>
</g>
</svg>
<div class="abs" style="left:436.5px;top:650px;width:99.5px;height:72px;background:rgba(20,56,140,.52);box-shadow:0 0 6px rgba(20,50,130,.45)"></div>
<div class="br b2 tl" style="left:432px;top:645px"></div><div class="br b2 tr" style="left:536px;top:645px"></div>
<div class="br b2 bl" style="left:432px;top:722px"></div><div class="br b2 brr" style="left:536px;top:722px"></div>
<div class="t il" style="left:445.3px;top:666.3px">实际负荷<span style="margin-left:1px">:</span></div>
<div class="t b" style="left:480.5px;top:665.8px;font-size:9.8px;color:#25d84a">30000</div>
<div class="t b" style="left:509px;top:666.8px;font-size:5.5px;color:#f4f6fc">瓶/小时</div>
<div class="t il" style="left:445.3px;top:679.3px">单瓶空压机能耗<span style="margin-left:1px">:</span></div>
<div class="t il" style="left:445.3px;top:692.3px">单瓶冷水机能耗<span style="margin-left:1px">:</span></div>
<div class="t il" style="left:445.3px;top:705.8px">单瓶总能耗<span style="margin-left:1px">:</span></div>
<svg class="abs" style="left:728px;top:660px" width="38" height="60" viewBox="0 0 38 60">
<defs><filter id="bglow" x="-30%" y="-10%" width="160%" height="120%"><feGaussianBlur in="SourceGraphic" stdDeviation="1.6" result="b"/><feColorMatrix in="b" type="matrix" values="0 0 0 0 .3  0 0 0 0 .6  0 0 0 0 1  0 0 0 .6 0" result="g"/><feMerge><feMergeNode in="g"/><feMergeNode in="SourceGraphic"/></feMerge></filter></defs>
<g filter="url(#bglow)"><use href="#bottle" transform="translate(1.4,5.6) scale(.86,.93)"/><use href="#bottle" transform="translate(25.4,5.6) scale(.86,.93)"/><use href="#bottle" transform="translate(11.6,1.6) scale(1.06,1.04)"/></g>
</svg>
<div class="abs" style="left:789.5px;top:654.5px;width:100px;height:47.5px;background:rgba(20,56,140,.52);box-shadow:0 0 6px rgba(20,50,130,.45)"></div>
<div class="br b2 tl" style="left:785px;top:649.5px"></div><div class="br b2 tr" style="left:890px;top:649.5px"></div>
<div class="br b2 bl" style="left:785px;top:702.5px"></div><div class="br b2 brr" style="left:890px;top:702.5px"></div>
<div class="t il" style="left:798px;top:672.3px">实际负荷<span style="margin-left:1px">:</span></div>
<div class="t b" style="left:834px;top:671.8px;font-size:9.8px;color:#22c4e6">30000</div>
<div class="t b" style="left:862.5px;top:672.8px;font-size:5.5px;color:#f4f6fc">瓶/小时</div>
<div class="t il" style="left:798px;top:684.8px">单瓶空压机能耗<span style="margin-left:1px">:</span></div>
<svg class="abs" style="left:179.7px;top:786.5px" width="72" height="52" viewBox="0 0 72 52"><use href="#comp"/></svg>
<svg class="abs" style="left:272.2px;top:786.5px" width="72" height="52" viewBox="0 0 72 52"><use href="#comp"/></svg>
<svg class="abs" style="left:364.5px;top:786.5px" width="72" height="52" viewBox="0 0 72 52"><use href="#comp"/></svg>
<svg class="abs" style="left:457.0px;top:786.5px" width="72" height="52" viewBox="0 0 72 52"><use href="#comp"/></svg>
<svg class="abs" style="left:549.5px;top:786.5px" width="72" height="52" viewBox="0 0 72 52"><use href="#comp"/></svg>
<svg class="abs" style="left:675.7px;top:781px" width="32" height="56" viewBox="0 0 32 56"><use href="#cooler"/></svg>
<svg class="abs" style="left:784.5px;top:781px" width="32" height="56" viewBox="0 0 32 56"><use href="#cooler"/></svg>
<div class="pill" style="left:199.5px">K01</div><div class="ring" style="left:207.1px"></div><div class="dot" style="left:216.9px"></div>
<div class="pill" style="left:291.5px">K02</div><div class="ring" style="left:299.1px"></div><div class="dot" style="left:308.9px"></div>
<div class="pill" style="left:384.5px">K03</div><div class="ring" style="left:392.1px"></div><div class="dot" style="left:401.9px"></div>
<div class="pill" style="left:476.5px">K04</div><div class="ring" style="left:484.1px"></div><div class="dot" style="left:493.9px"></div>
<div class="pill" style="left:568.5px">K05</div><div class="ring" style="left:576.1px"></div><div class="dot" style="left:585.9px"></div>
<div class="pill" style="left:676.5px">L01</div><div class="ring" style="left:684.1px"></div><div class="dot" style="left:693.9px"></div>
<div class="pill" style="left:784.5px">L02</div><div class="ring" style="left:792.1px"></div><div class="dot" style="left:801.9px"></div>
<svg class="abs" style="left:179.5px;top:885.5px" width="71" height="58" viewBox="0 0 71 58"><path d="M.5 .5 H70.5 V51 L64 57.5 H.5 Z" fill="rgba(14,38,106,.72)" stroke="#1b4a8e" stroke-width=".9"/><path d="M4.5 17 H66" stroke="#2a62b4" stroke-width=".6" opacity=".45"/></svg><div class="t b" style="left:184.2px;top:895.7px;font-size:6.6px;color:#22cadc">K01</div><div class="t cl" style="left:184.3px;top:910.5px">实际能耗<span style="margin-left:1.6px;font-weight:normal">:</span></div><div class="t b" style="left:213.0px;top:911.4px;font-size:8.2px;color:#fff">10</div><div class="t" style="left:223.3px;top:911.1px;font-size:5.4px;color:#2a86e0;letter-spacing:.3px">kwh</div><div class="t cl" style="left:184.3px;top:920.8px">实际产出<span style="margin-left:1.6px;font-weight:normal">:</span></div><div class="t b" style="left:213.0px;top:921.6999999999999px;font-size:8.2px;color:#f0202c">46</div><div class="t cl" style="left:224.0px;top:920.8px">瓶/小时</div><div class="t cl" style="left:184.3px;top:930.9px">单位能耗<span style="margin-left:1.6px;font-weight:normal">:</span></div><div class="t b" style="left:213.0px;top:931.8px;font-size:8.2px;color:#fff">12</div><div class="t" style="left:223.3px;top:931.5px;font-size:5.4px;color:#2a86e0;letter-spacing:.3px">kwh</div>
<svg class="abs" style="left:272.0px;top:885.5px" width="71" height="58" viewBox="0 0 71 58"><path d="M.5 .5 H70.5 V51 L64 57.5 H.5 Z" fill="rgba(14,38,106,.72)" stroke="#1b4a8e" stroke-width=".9"/><path d="M4.5 17 H66" stroke="#2a62b4" stroke-width=".6" opacity=".45"/></svg><div class="t b" style="left:276.7px;top:895.7px;font-size:6.6px;color:#22cadc">K02</div><div class="t cl" style="left:276.8px;top:910.5px">实际能耗<span style="margin-left:1.6px;font-weight:normal">:</span></div><div class="t b" style="left:305.5px;top:911.4px;font-size:8.2px;color:#fff">8</div><div class="t" style="left:311.2px;top:911.1px;font-size:5.4px;color:#2a86e0;letter-spacing:.3px">kwh</div><div class="t cl" style="left:276.8px;top:920.8px">实际产出<span style="margin-left:1.6px;font-weight:normal">:</span></div><div class="t b" style="left:305.5px;top:921.6999999999999px;font-size:8.2px;color:#f0202c">38</div><div class="t cl" style="left:316.5px;top:920.8px">瓶/小时</div><div class="t cl" style="left:276.8px;top:930.9px">单位能耗<span style="margin-left:1.6px;font-weight:normal">:</span></div><div class="t b" style="left:305.5px;top:931.8px;font-size:8.2px;color:#fff">10</div><div class="t" style="left:315.8px;top:931.5px;font-size:5.4px;color:#2a86e0;letter-spacing:.3px">kwh</div>
<svg class="abs" style="left:364.5px;top:885.5px" width="71" height="58" viewBox="0 0 71 58"><path d="M.5 .5 H70.5 V51 L64 57.5 H.5 Z" fill="rgba(14,38,106,.72)" stroke="#1b4a8e" stroke-width=".9"/><path d="M4.5 17 H66" stroke="#2a62b4" stroke-width=".6" opacity=".45"/></svg><div class="t b" style="left:369.2px;top:895.7px;font-size:6.6px;color:#22cadc">K03</div><div class="t cl" style="left:369.3px;top:910.5px">实际能耗<span style="margin-left:1.6px;font-weight:normal">:</span></div><div class="t b" style="left:398.0px;top:911.4px;font-size:8.2px;color:#fff">14</div><div class="t" style="left:408.3px;top:911.1px;font-size:5.4px;color:#2a86e0;letter-spacing:.3px">kwh</div><div class="t cl" style="left:369.3px;top:920.8px">实际产出<span style="margin-left:1.6px;font-weight:normal">:</span></div><div class="t b" style="left:398.0px;top:921.6999999999999px;font-size:8.2px;color:#f0202c">51</div><div class="t cl" style="left:409.0px;top:920.8px">瓶/小时</div><div class="t cl" style="left:369.3px;top:930.9px">单位能耗<span style="margin-left:1.6px;font-weight:normal">:</span></div><div class="t b" style="left:398.0px;top:931.8px;font-size:8.2px;color:#fff">13</div><div class="t" style="left:408.3px;top:931.5px;font-size:5.4px;color:#2a86e0;letter-spacing:.3px">kwh</div>
<svg class="abs" style="left:457.0px;top:885.5px" width="71" height="58" viewBox="0 0 71 58"><path d="M.5 .5 H70.5 V51 L64 57.5 H.5 Z" fill="rgba(14,38,106,.72)" stroke="#1b4a8e" stroke-width=".9"/><path d="M4.5 17 H66" stroke="#2a62b4" stroke-width=".6" opacity=".45"/></svg><div class="t b" style="left:461.7px;top:895.7px;font-size:6.6px;color:#22cadc">K04</div><div class="t cl" style="left:461.8px;top:910.5px">实际能耗<span style="margin-left:1.6px;font-weight:normal">:</span></div><div class="t b" style="left:490.5px;top:911.4px;font-size:8.2px;color:#fff">13</div><div class="t" style="left:500.8px;top:911.1px;font-size:5.4px;color:#2a86e0;letter-spacing:.3px">kwh</div><div class="t cl" style="left:461.8px;top:920.8px">实际产出<span style="margin-left:1.6px;font-weight:normal">:</span></div><div class="t b" style="left:490.5px;top:921.6999999999999px;font-size:8.2px;color:#f0202c">52</div><div class="t cl" style="left:501.5px;top:920.8px">瓶/小时</div><div class="t cl" style="left:461.8px;top:930.9px">单位能耗<span style="margin-left:1.6px;font-weight:normal">:</span></div><div class="t b" style="left:490.5px;top:931.8px;font-size:8.2px;color:#fff">11</div><div class="t" style="left:500.8px;top:931.5px;font-size:5.4px;color:#2a86e0;letter-spacing:.3px">kwh</div>
<svg class="abs" style="left:549.5px;top:885.5px" width="71" height="58" viewBox="0 0 71 58"><path d="M.5 .5 H70.5 V51 L64 57.5 H.5 Z" fill="rgba(14,38,106,.72)" stroke="#1b4a8e" stroke-width=".9"/><path d="M4.5 17 H66" stroke="#2a62b4" stroke-width=".6" opacity=".45"/></svg><div class="t b" style="left:554.2px;top:895.7px;font-size:6.6px;color:#22cadc">K05</div><div class="t cl" style="left:554.3px;top:910.5px">实际能耗<span style="margin-left:1.6px;font-weight:normal">:</span></div><div class="t b" style="left:583.0px;top:911.4px;font-size:8.2px;color:#fff">15</div><div class="t" style="left:593.3px;top:911.1px;font-size:5.4px;color:#2a86e0;letter-spacing:.3px">kwh</div><div class="t cl" style="left:554.3px;top:920.8px">实际产出<span style="margin-left:1.6px;font-weight:normal">:</span></div><div class="t b" style="left:583.0px;top:921.6999999999999px;font-size:8.2px;color:#f0202c">49</div><div class="t cl" style="left:594.0px;top:920.8px">瓶/小时</div><div class="t cl" style="left:554.3px;top:930.9px">单位能耗<span style="margin-left:1.6px;font-weight:normal">:</span></div><div class="t b" style="left:583.0px;top:931.8px;font-size:8.2px;color:#fff">14</div><div class="t" style="left:593.3px;top:931.5px;font-size:5.4px;color:#2a86e0;letter-spacing:.3px">kwh</div>
<svg class="abs" style="left:656.0px;top:885.5px" width="71" height="58" viewBox="0 0 71 58"><path d="M.5 .5 H70.5 V51 L64 57.5 H.5 Z" fill="rgba(14,38,106,.72)" stroke="#1b4a8e" stroke-width=".9"/><path d="M4.5 17 H66" stroke="#2a62b4" stroke-width=".6" opacity=".45"/></svg><div class="t b" style="left:660.7px;top:895.7px;font-size:6.6px;color:#22cadc">L01</div><div class="t cl" style="left:660.8px;top:910.5px">实际能耗<span style="margin-left:1.6px;font-weight:normal">:</span></div><div class="t b" style="left:689.5px;top:911.4px;font-size:8.2px;color:#fff">16</div><div class="t" style="left:699.8px;top:911.1px;font-size:5.4px;color:#2a86e0;letter-spacing:.3px">kwh</div><div class="t cl" style="left:660.8px;top:920.8px">实际产出<span style="margin-left:1.6px;font-weight:normal">:</span></div><div class="t b" style="left:689.5px;top:921.6999999999999px;font-size:8.2px;color:#f0202c">96</div><div class="t cl" style="left:700.5px;top:920.8px">瓶/小时</div><div class="t cl" style="left:660.8px;top:930.9px">单位能耗<span style="margin-left:1.6px;font-weight:normal">:</span></div><div class="t b" style="left:689.5px;top:931.8px;font-size:8.2px;color:#fff">14</div><div class="t" style="left:699.8px;top:931.5px;font-size:5.4px;color:#2a86e0;letter-spacing:.3px">kwh</div>
<svg class="abs" style="left:764.5px;top:885.5px" width="71" height="58" viewBox="0 0 71 58"><path d="M.5 .5 H70.5 V51 L64 57.5 H.5 Z" fill="rgba(14,38,106,.72)" stroke="#1b4a8e" stroke-width=".9"/><path d="M4.5 17 H66" stroke="#2a62b4" stroke-width=".6" opacity=".45"/></svg><div class="t b" style="left:769.2px;top:895.7px;font-size:6.6px;color:#22cadc">L02</div><div class="t cl" style="left:769.3px;top:910.5px">实际能耗<span style="margin-left:1.6px;font-weight:normal">:</span></div><div class="t b" style="left:798.0px;top:911.4px;font-size:8.2px;color:#fff">17</div><div class="t" style="left:808.3px;top:911.1px;font-size:5.4px;color:#2a86e0;letter-spacing:.3px">kwh</div><div class="t cl" style="left:769.3px;top:920.8px">实际产出<span style="margin-left:1.6px;font-weight:normal">:</span></div><div class="t b" style="left:798.0px;top:921.6999999999999px;font-size:8.2px;color:#f0202c">86</div><div class="t cl" style="left:809.0px;top:920.8px">瓶/小时</div><div class="t cl" style="left:769.3px;top:930.9px">单位能耗<span style="margin-left:1.6px;font-weight:normal">:</span></div><div class="t b" style="left:798.0px;top:931.8px;font-size:8.2px;color:#fff">13</div><div class="t" style="left:808.3px;top:931.5px;font-size:5.4px;color:#2a86e0;letter-spacing:.3px">kwh</div>

<div class="t b" style="left:178.6px;top:999px;font-size:8.1px;color:#f0f2f8">空压机供给/需求负荷比</div>
<div class="abs" style="left:266.5px;top:993.8px;width:153.5px;height:9.4px;background:#5b6b9b"></div>
<div class="abs" style="left:266.5px;top:993.8px;width:87px;height:9.4px;background:linear-gradient(90deg,#0ce6fa 0%,#10c8f6 55%,#1f9af2 100%)"></div>
<div class="t" style="left:424px;top:998.6px;font-size:7.6px;color:#e8ebf4">37.5%</div>
<div class="t b" style="left:481px;top:999px;font-size:8.1px;color:#f0f2f8">冷水机供给/需求负荷比</div>
<div class="abs" style="left:570px;top:993.8px;width:152.5px;height:9.4px;background:#5b6b9b"></div>
<div class="abs" style="left:570px;top:993.8px;width:72.5px;height:9.4px;background:linear-gradient(90deg,#0ce6fa 0%,#10c8f6 55%,#1f9af2 100%)"></div>
<div class="t" style="left:727.5px;top:998.6px;font-size:7.6px;color:#e8ebf4">26.7%</div>
<div class="abs" style="left:931px;top:989.8px;width:18px;height:17.8px;background:#121840;border:1px solid #3a4068"></div>
<svg class="abs" style="left:933.8px;top:992.6px" width="12.2" height="11.6" viewBox="0 0 12.2 11.6"><defs><linearGradient id="gic" x1="0" y1="0" x2="0" y2="1"><stop offset="0" stop-color="#2fc4a6"/><stop offset=".5" stop-color="#35b8c8"/><stop offset="1" stop-color="#3fa6e4"/></linearGradient></defs><rect x="0" y="0" width="12.2" height="11.6" fill="url(#gic)"/><g fill="#0c2a4c"><rect x="1.3" y="3.6" width="2.3" height="2.6"/><rect x="4.95" y="3.6" width="2.3" height="2.6"/><rect x="8.6" y="3.6" width="2.3" height="2.6"/><rect x="1.3" y="7.4" width="2.3" height="2.6"/><rect x="4.95" y="7.4" width="2.3" height="2.6"/><rect x="8.6" y="7.4" width="2.3" height="2.6"/></g></svg>

</div>
</body>
</html>
